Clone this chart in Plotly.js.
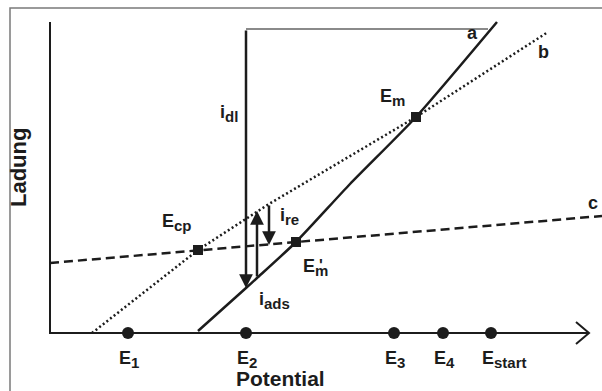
<!DOCTYPE html>
<html>
<head>
<meta charset="utf-8">
<script src="https://cdn.plot.ly/plotly-3.0.1.min.js"></script>
<style>
  html, body { margin: 0; padding: 0; background: #fff; }
  #chart { width: 602px; height: 391px; }
</style>
</head>
<body>
<div id="chart"></div>
<script>
// potential (x) / charge (y) in arbitrary units, origin at the axis corner
const curveA_x = [148, 196, 207, 246, 300, 366, 447];
const curveA_y = [2, 45, 55, 91, 149, 216, 311];
const curveB_x = [42, 148, 219, 366, 498];
const curveB_y = [0, 83, 129, 216, 301];
const curveC_x = [0, 552];
const curveC_y = [70, 117];

const crossNames = ['Ecp', "E'm", 'Em'];
const crossX = [148, 246, 366];
const crossY = [83, 91, 216];

const potSubs = ['1', '2', '3', '4', 'start'];
const potX = [78, 196, 344, 393, 441];

// currents: [x, from y, to y]
const iDl = [196, 304, 45];
const iAds = [207, 55, 122];
const iRe = [219, 129, 88];
const topLine = { x: [196, 438], y: [304, 304] };

const ink = '#1c1c1c';
const font = { family: 'Liberation Sans, Arial, sans-serif', size: 18, color: ink, weight: 700 };
const bigFont = Object.assign({}, font, { size: 21 });

// subscripts in the original are larger than plotly's default 70%
function sub(t) { return '<sub><span style="font-size:15px">' + t + '</span></sub>'; }

let traces = [
  { x: [0, 0, 539], y: [311, 0, 0], mode: 'lines', line: { color: ink, width: 2 } },
  { x: [526, 539, 526], y: [11, 0, -11], mode: 'lines', line: { color: ink, width: 2 } },
  { x: topLine.x, y: topLine.y, mode: 'lines', line: { color: '#8a8a8a', width: 2 } },
  { x: curveC_x, y: curveC_y, mode: 'lines', line: { color: ink, width: 2.5, dash: '9px,5px' } },
  { x: curveB_x, y: curveB_y, mode: 'lines', line: { color: ink, width: 2.5, dash: '2px,2.6px' } },
  { x: curveA_x, y: curveA_y, mode: 'lines', line: { color: ink, width: 2.5, shape: 'spline', smoothing: 0.6 } },
  { x: crossX, y: crossY, text: crossNames, mode: 'markers',
    marker: { symbol: 'square', size: 10, color: ink } },
  { x: potX, y: potX.map(() => 0), mode: 'markers',
    marker: { symbol: 'circle', size: 12, color: ink } }
];
traces.forEach(t => { t.type = 'scatter'; t.showlegend = false; t.hoverinfo = 'skip'; t.cliponaxis = false; });

function arrow(a) {
  return { x: a[0], y: a[2], ax: a[0], ay: a[1], xref: 'x', yref: 'y', axref: 'x', ayref: 'y',
           text: '', showarrow: true, arrowhead: 2, arrowsize: 1.1, arrowwidth: 2.5, arrowcolor: ink, standoff: 0 };
}

function label(text, x, y, extra) {
  return Object.assign({ x: x, y: y, xref: 'x', yref: 'y', text: text, showarrow: false, font: font }, extra || {});
}

let annotations = [
  arrow(iDl), arrow(iAds), arrow(iRe),
  label('i' + sub('dl'), 190, 220, { xanchor: 'right' }),
  label('i' + sub('ads'), 224, 33),
  label('i' + sub('re'), 239, 117),
  label('E' + sub('m'), 342, 236),
  label('E' + sub('cp'), 127, 111),
  label('E' + sub('m'), 265, 66),
  label("'", 271, 68, { font: Object.assign({}, font, { size: 16 }) }),
  label('a', 422, 300),
  label('b', 493, 281),
  label('c', 543, 130),
  label('Potential', 230, -45, { font: bigFont }),
  label('Ladung', -32, 165, { textangle: -90, font: Object.assign({}, bigFont, { size: 22 }) })
];
potSubs.forEach((s, i) => {
  annotations.push(label('E' + sub(s), potX[i] - 11, -26, { xanchor: 'left' }));
});

const layout = {
  width: 602,
  height: 391,
  margin: { l: 0, r: 0, t: 0, b: 0, pad: 0 },
  paper_bgcolor: '#fff',
  plot_bgcolor: '#fff',
  xaxis: { range: [-50, 552], visible: false, fixedrange: true },
  yaxis: { range: [-58, 333], visible: false, fixedrange: true },
  shapes: [
    { type: 'rect', xref: 'x', yref: 'y', x0: -40, x1: 600, y0: -120, y1: 325,
      line: { color: '#7a7a7a', width: 1.5 }, layer: 'below' }
  ],
  annotations: annotations
};

Plotly.newPlot('chart', traces, layout, { displayModeBar: false, staticPlot: true });
</script>
</body>
</html>
